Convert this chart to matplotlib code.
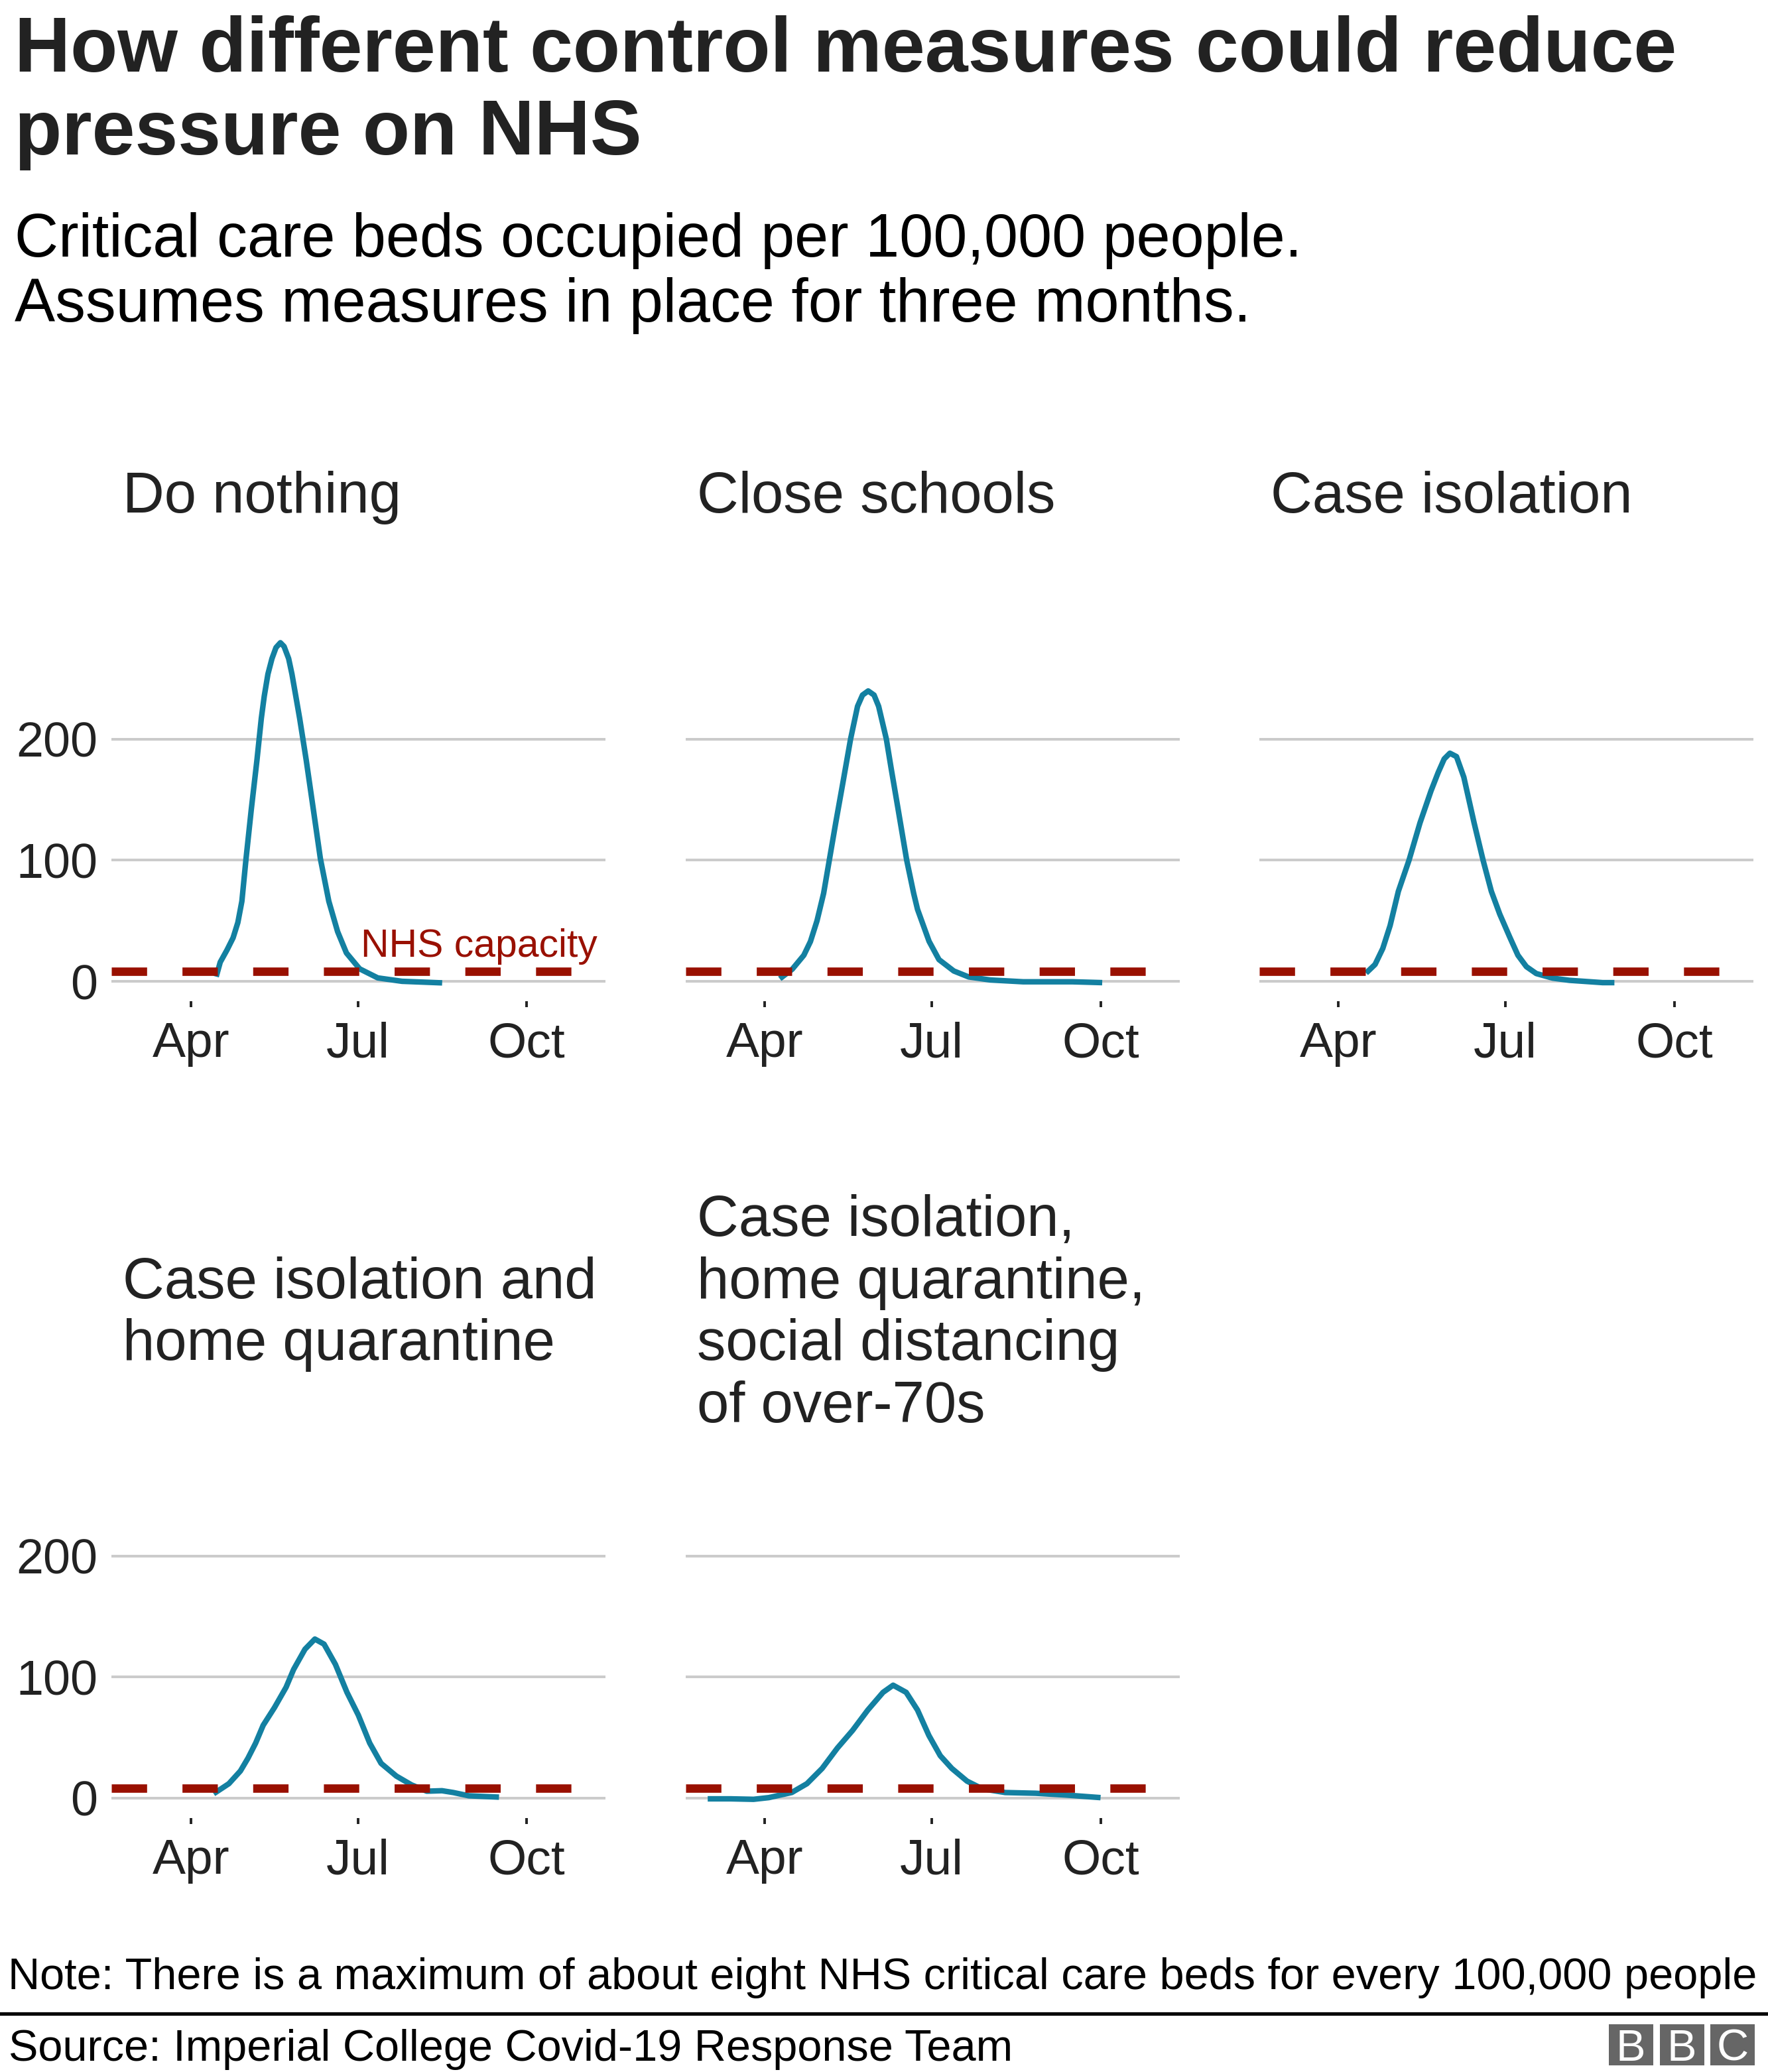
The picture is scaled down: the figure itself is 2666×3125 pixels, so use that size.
import matplotlib
matplotlib.use("Agg")
import matplotlib.pyplot as plt
from matplotlib.patches import Rectangle

# Values. x = day of 2020 (Jan 1 = 0, Apr 1 = 91),
# y = critical care beds occupied per 100,000 people.
do_nothing_days = [104.8, 107.0, 110.7, 114.0, 116.6, 118.8, 121.0, 123.9, 127.0, 128.2,
                   129.4, 131.0, 133.0, 135.2, 137.4, 139.8, 141.8, 144.3, 146.1, 148.2,
                   150.3, 152.1, 153.9, 157.8, 161.6, 166.2, 171.0, 175.8, 183.0, 192.9,
                   206.1, 228.0]
do_nothing_beds = [3.8, 15.8, 25.9, 35.9, 48.5, 66.1, 100.3, 141.5, 182.4, 199.8,
                   217.1, 235.4, 253.6, 266.4, 275.5, 279.5, 276.4, 266.4, 253.6, 235.4,
                   217.1, 199.8, 182.4, 141.5, 101.3, 66.1, 41.0, 23.4, 10.3, 2.8,
                   0.0, -1.3]

close_schools_days = [99.1, 105.9, 112.2, 115.8, 119.4, 123.0, 126.1, 129.6, 133.6, 137.7,
                      141.5, 144.2, 147.3, 150.5, 153.0, 157.2, 159.8, 163.4, 168.3, 172.1,
                      174.2, 180.5, 185.9, 194.0, 202.1, 213.8, 231.8, 258.7, 274.9]
close_schools_beds = [2.1, 10.0, 21.5, 32.8, 50.0, 72.6, 100.0, 130.8, 164.7, 200.0,
                      227.0, 236.3, 239.7, 236.3, 227.0, 200.0, 176.0, 144.0, 100.0, 72.6,
                      59.4, 33.0, 17.9, 8.5, 3.6, 1.1, -0.4, -0.4, -1.1]

case_isolation_days = [106.0, 110.9, 115.1, 119.1, 123.6, 129.4, 135.4, 141.4, 145.3, 148.6,
                       151.7, 155.3, 159.3, 164.9, 169.8, 174.3, 178.9, 184.3, 188.8, 193.4,
                       198.8, 207.8, 216.9, 235.0, 241.4]
case_isolation_beds = [6.8, 13.9, 27.1, 46.0, 74.3, 99.9, 130.8, 157.2, 172.3, 183.6,
                       188.3, 185.5, 168.5, 130.8, 99.9, 74.3, 55.4, 36.6, 21.5, 12.1,
                       6.4, 2.6, 0.8, -1.1, -1.1]

quarantine_days = [103.4, 111.7, 118.0, 122.1, 126.3, 130.4, 136.6, 142.9, 147.0, 153.2,
                   158.6, 163.6, 169.8, 176.1, 182.3, 188.5, 194.7, 203.0, 211.3, 219.6,
                   227.9, 234.1, 242.5, 259.0]
quarantine_beds = [3.6, 11.9, 22.4, 32.9, 45.4, 60.1, 74.8, 91.5, 106.2, 122.9,
                   131.3, 127.1, 110.4, 87.3, 68.5, 45.4, 28.7, 18.2, 10.9, 5.7,
                   6.1, 4.6, 1.9, 0.8]

distancing_days = [59.8, 72.3, 84.8, 93.1, 105.6, 113.9, 122.2, 130.5, 138.8, 147.1,
                   155.4, 160.9, 168.0, 174.2, 180.4, 186.6, 192.9, 201.2, 209.5, 222.0,
                   238.6, 255.2, 274.0]
distancing_beds = [-0.6, -0.6, -1.0, 0.4, 4.6, 11.9, 24.5, 41.3, 55.9, 72.7,
                   87.3, 93.2, 87.3, 72.7, 51.7, 35.0, 24.5, 14.0, 7.7, 4.6,
                   4.0, 2.5, 0.4]

panel_titles = [
    "Do nothing",
    "Close schools",
    "Case isolation",
    "Case isolation and\nhome quarantine",
    "Case isolation,\nhome quarantine,\nsocial distancing\nof over-70s",
]
panel_days = [do_nothing_days, close_schools_days, case_isolation_days,
              quarantine_days, distancing_days]
panel_beds = [do_nothing_beds, close_schools_beds, case_isolation_beds,
              quarantine_beds, distancing_beds]

nhs_capacity = 8
x_tick_days = [91, 182, 274]
x_tick_labels = ["Apr", "Jul", "Oct"]
y_ticks = [0, 100, 200]

title = "How different control measures could reduce\npressure on NHS"
subtitle = "Critical care beds occupied per 100,000 people.\nAssumes measures in place for three months."
note = "Note: There is a maximum of about eight NHS critical care beds for every 100,000 people"
source = "Source: Imperial College Covid-19 Response Team"

W, H, DPI = 2666, 3125, 200
BLUE = "#1380A1"
RED = "#991000"
GRID = "#cbcbcb"
DARK = "#222222"

plt.rcParams['font.family'] = ['Liberation Sans', 'DejaVu Sans']


def fx(px):
    return px / W


def fy(py):
    return 1 - py / H


def put_lines(x, first_baseline, text, pitch, **kw):
    # one text per line so every baseline lands where it should
    for i, line in enumerate(text.split("\n")):
        fig.text(fx(x), fy(first_baseline + i * pitch), line, va='baseline', ha='left', **kw)


fig = plt.figure(figsize=(W / DPI, H / DPI), dpi=DPI, facecolor='white')

put_lines(21.5, 108.3, title, 125, fontsize=42, fontweight='bold', color=DARK)
put_lines(21.5, 386.7, subtitle, 98.3, fontsize=33.0, color='black')

# panel geometry in pixels
col_left = [168.4, 1034.0, 1899.0]
panel_w = 745.0
row_zero = [1480.0, 2711.9]
px_per_bed = 1.827
ymin, ymax = -16.3, 300
title_pitch = 93.4

for i, (name, days, beds) in enumerate(zip(panel_titles, panel_days, panel_beds)):
    row, col = divmod(i, 3)
    left = col_left[col]
    top = row_zero[row] - ymax * px_per_bed
    bottom = row_zero[row] - ymin * px_per_bed
    ax = fig.add_axes([fx(left), fy(bottom), panel_w / W, (bottom - top) / H])
    ax.set_xlim(47.8, 317.2)
    ax.set_ylim(ymin, ymax)
    for spine in ax.spines.values():
        spine.set_visible(False)
    ax.set_facecolor('none')

    ax.set_yticks(y_ticks)
    ax.yaxis.grid(True, color=GRID, linewidth=1.45)
    ax.set_axisbelow(True)
    ax.tick_params(axis='y', length=0, pad=7.5, labelsize=26.5, labelcolor=DARK,
                   labelleft=(col == 0))
    ax.set_xticks(x_tick_days)
    ax.set_xticklabels(x_tick_labels)
    ax.tick_params(axis='x', length=3.3, width=1.4, pad=7.7, labelsize=27,
                   color=DARK, labelcolor=DARK)

    ax.plot(days, beds, color=BLUE, linewidth=3.0, solid_joinstyle='round',
            solid_capstyle='butt', zorder=2)
    ax.axhline(nhs_capacity, color=RED, linewidth=4.57, linestyle=(0, (4.2, 4.2)),
               dash_capstyle='butt', zorder=3)
    if i == 0:
        ax.text(183.5, 20.1, "NHS capacity", color=RED, fontsize=21.2,
                ha='left', va='baseline')

    n = name.count("\n") + 1
    mid = top - 159.3
    first = mid - (n - 1) / 2 * title_pitch
    put_lines(left + 16.6, first, name, title_pitch, fontsize=31.3, color=DARK)

# footer
put_lines(12.5, 3000, note, 0, fontsize=24, color='black')
fig.add_artist(plt.Line2D([0, 1], [fy(3036.7), fy(3036.7)], color='black', linewidth=1.9))
put_lines(13, 3108.3, source, 0, fontsize=24, color='black')

for x0, letter in zip([2425.7, 2502.7, 2579.3], "BBC"):
    fig.add_artist(Rectangle((fx(x0), fy(3115)), 67 / W, 62.3 / H,
                             facecolor='#666666', edgecolor='none'))
    fig.text(fx(x0 + 33.5), fy(3084), letter, color='white', fontsize=24,
             ha='center', va='center_baseline')

fig.savefig("out.png", dpi=DPI, facecolor='white')
